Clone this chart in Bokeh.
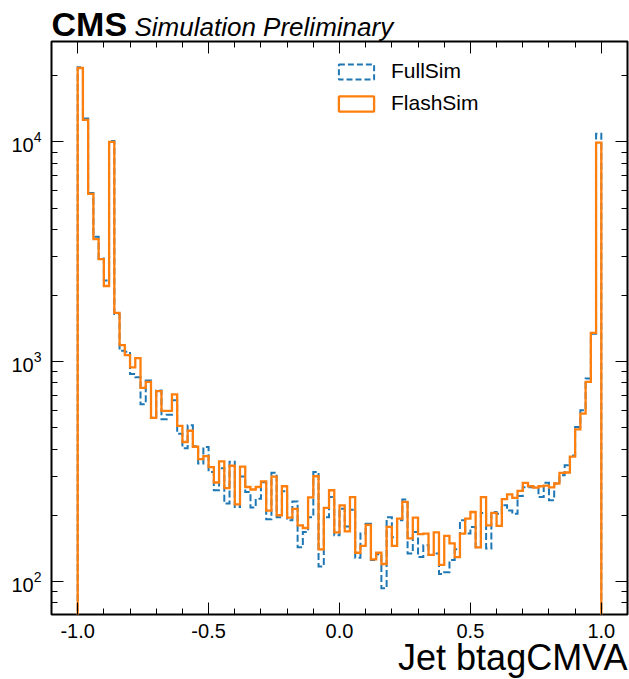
import numpy as np
from bokeh.plotting import figure
from bokeh.models import (Range1d, LinearAxis, LogAxis, SingleIntervalTicker, LogTicker,
                          NumeralTickFormatter, Title, Legend, LegendItem)
from bokeh.embed import file_html
from bokeh.resources import INLINE

# ---------------- data ----------------
bin_lo, bin_hi, n_bins = -1.0, 1.0, 100

flashsim = [21700, 12600, 5800, 3610, 2930, 2210, 10000, 1667, 1189, 1071,
            942, 1039, 760, 809, 555, 734, 597, 597, 710, 510,
            431, 485, 410, 360, 372, 331, 282, 352, 266, 336,
            224, 333, 269, 262, 269, 285, 210, 300, 200, 271,
            195, 214, 180, 175, 241, 301, 140, 216, 260, 167,
            222, 169, 242, 135, 145, 181, 126, 135, 120, 177,
            145, 193, 230, 157, 195, 164, 165, 132, 167, 119,
            161, 149, 129, 165, 193, 207, 143, 242, 180, 205,
            179, 237, 249, 240, 258, 281, 271, 267, 271, 273,
            268, 279, 312, 313, 370, 492, 580, 809, 1352, 9930]

fullsim = [21900, 12800, 5850, 3700, 2950, 2340, 10100, 1650, 1120, 1110,
           880, 850, 640, 820, 555, 740, 547, 573, 667, 470,
           404, 514, 412, 344, 409, 315, 260, 327, 226, 350,
           218, 300, 255, 217, 238, 283, 192, 312, 196, 257,
           190, 231, 143, 168, 196, 315, 117, 196, 242, 162,
           214, 178, 212, 128, 165, 183, 125, 133, 93, 196,
           159, 190, 236, 134, 168, 129, 146, 132, 134, 108,
           110, 125, 140, 190, 165, 177, 143, 205, 141, 207,
           203, 222, 210, 203, 245, 268, 268, 268, 242, 281,
           234, 279, 304, 338, 374, 505, 601, 838, 1340, 10900]

series_labels = ["FullSim", "FlashSim"]
x_label = "Jet btagCMVA"
exp_label = "CMS"
exp_sublabel = "Simulation Preliminary"
x_lim = (-1.1, 1.1)
y_lim = (70.7, 28650)

BLUE = "#1f77b4"
ORANGE = "#ff7f0e"
FONT = "Liberation Sans"

edges = np.linspace(bin_lo, bin_hi, n_bins + 1)


def step_xy(vals, floor=1.0):
    xs = [edges[0]]
    ys = [floor]
    for i, v in enumerate(vals):
        xs += [edges[i], edges[i + 1]]
        ys += [v, v]
    xs.append(edges[-1])
    ys.append(floor)
    return xs, ys


p = figure(width=629, height=679, x_range=Range1d(*x_lim), y_range=Range1d(*y_lim),
           y_axis_type="log", output_backend="svg", toolbar_location=None,
           min_border_left=51, min_border_right=2, min_border_top=41, min_border_bottom=65)
p.xgrid.visible = False
p.ygrid.visible = False
p.outline_line_color = "black"
p.outline_line_width = 2
p.background_fill_color = "white"
p.border_fill_color = "white"

# main axes
xa = p.xaxis[0]
xa.ticker = SingleIntervalTicker(interval=0.5, num_minor_ticks=5)
xa.formatter = NumeralTickFormatter(format="0.0")
ya = p.yaxis[0]
ya.ticker = LogTicker(num_minor_ticks=10)

for ax in (xa, ya):
    ax.axis_line_color = None
    ax.major_tick_in = 12
    ax.major_tick_out = 0
    ax.minor_tick_in = 6
    ax.minor_tick_out = 0
    ax.major_tick_line_color = "black"
    ax.minor_tick_line_color = "black"
    ax.major_tick_line_width = 1
    ax.minor_tick_line_width = 1
    ax.major_label_text_font = FONT
    ax.major_label_text_font_size = "20px"
    ax.major_label_text_color = "black"
xa.major_label_standoff = 9
ya.major_label_standoff = 10

# mirrored tick axes (labels hidden)
top = LinearAxis(ticker=SingleIntervalTicker(interval=0.5, num_minor_ticks=5))
right = LogAxis(ticker=LogTicker(num_minor_ticks=10))
for ax in (top, right):
    ax.axis_line_color = None
    ax.major_tick_in = 12
    ax.major_tick_out = 0
    ax.minor_tick_in = 6
    ax.minor_tick_out = 0
    ax.major_label_text_font_size = "1px"
    ax.major_label_text_color = None
    ax.major_label_standoff = 0
p.add_layout(top, "above")
p.add_layout(right, "right")

# histograms
fx, fy = step_xy(fullsim)
p.line(fx, fy, line_color=BLUE, line_width=2, line_dash="7 3", line_join="miter")
gx, gy = step_xy(flashsim)
p.line(gx, gy, line_color=ORANGE, line_width=2.3, line_join="miter")

# legend proxies (rectangle outlines), kept outside the visible ranges
px_l, px_r = [x_lim[1] + 1], [x_lim[1] + 2]
py_b, py_t = [y_lim[1] * 10], [y_lim[1] * 100]
r_full = p.quad(left=px_l, right=px_r, top=py_t, bottom=py_b, fill_color=None,
                line_color=BLUE, line_width=2, line_dash="6 3")
r_flash = p.quad(left=px_l, right=px_r, top=py_t, bottom=py_b, fill_color=None,
                 line_color=ORANGE, line_width=2.3)
legend = Legend(items=[LegendItem(label=series_labels[0], renderers=[r_full]),
                       LegendItem(label=series_labels[1], renderers=[r_flash])],
                location=(283, 499), glyph_width=44, glyph_height=19,
                label_standoff=13, spacing=8, padding=0, margin=0,
                label_text_font=FONT, label_text_font_size="21px", label_text_color="black",
                border_line_color=None, background_fill_alpha=0)
p.add_layout(legend)

# header: "CMS" (bold) and "Simulation Preliminary" (italic) on one line above the frame
p.add_layout(Title(text=exp_label, align="left", offset=0, text_font=FONT,
                   text_font_style="bold", text_font_size="34px", text_color="black",
                   standoff=-2), "above")
p.add_layout(Title(text=exp_sublabel, align="left", offset=83, text_font=FONT,
                   text_font_style="italic", text_font_size="26px", text_color="black",
                   standoff=-76), "above")

# x-axis label, right aligned under the axis
p.add_layout(Title(text=x_label, align="right", text_font=FONT, text_font_size="36px",
                   text_font_style="normal", text_color="black", standoff=-12), "below")

open("out.html", "w").write(file_html(p, INLINE))
